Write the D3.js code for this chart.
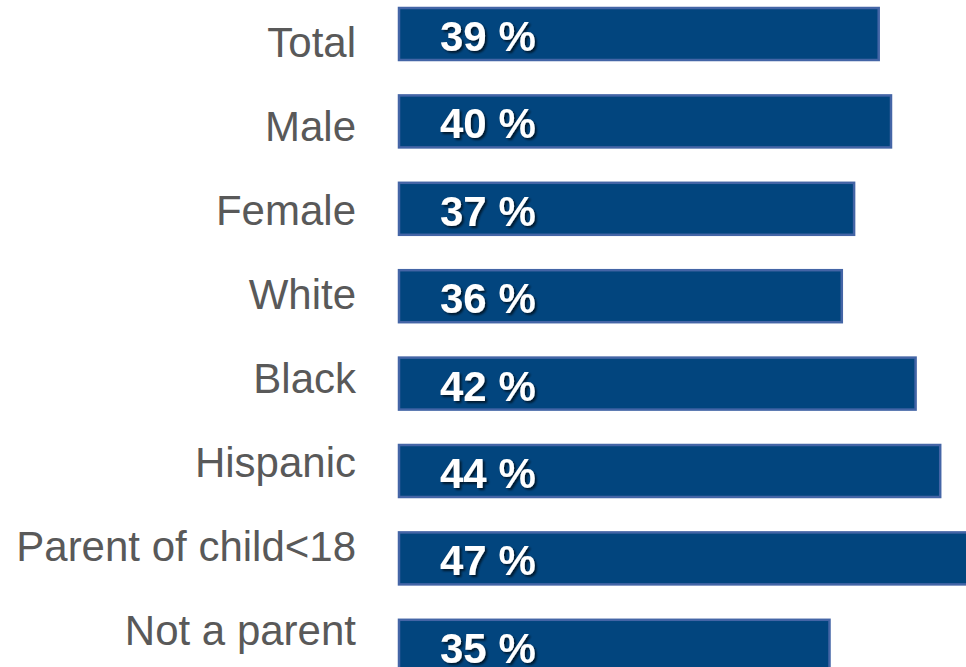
<!DOCTYPE html>
<html>
<head>
<meta charset="utf-8">
<script src="https://cdn.jsdelivr.net/npm/d3@7"></script>
<style>
  html, body { margin: 0; padding: 0; background: #fff; overflow: hidden; }
  svg { display: block; }
</style>
</head>
<body>
<svg id="chart"></svg>
<script>
// categories and values
const categories = ['Total', 'Male', 'Female', 'White', 'Black', 'Hispanic', 'Parent of child<18', 'Not a parent']
const values = [39, 40, 37, 36, 42, 44, 47, 35]

const width = 966
const height = 667

const svg = d3.select('#chart')
  .attr('width', width)
  .attr('height', height)

// drop shadow for the white value labels
const defs = svg.append('defs')
defs.append('filter')
  .attr('id', 'shadow')
  .attr('x', '-10%').attr('y', '-20%')
  .attr('width', '130%').attr('height', '150%')
  .append('feDropShadow')
  .attr('dx', 2)
  .attr('dy', 2)
  .attr('stdDeviation', 1.2)
  .attr('flood-color', '#000')
  .attr('flood-opacity', 0.65)

// x: zero at the bar start, ~12.3px per percent
const x = d3.scaleLinear()
  .domain([0, 47])
  .range([399, 399 + 47 * 12.3])

// bars
const y = d3.scaleBand()
  .domain(categories)
  .range([8, 8 + 7 * 87.4 + 52])
  .paddingInner(0.405)
  .paddingOuter(0)

// category labels sit on their own evenly spaced baselines
const yLabel = d3.scalePoint()
  .domain(categories)
  .range([57, 645])

const data = categories.map((c, i) => ({ cat: c, value: values[i] }))

svg.append('g')
  .selectAll('rect')
  .data(data)
  .join('rect')
  .attr('x', x(0))
  .attr('y', d => y(d.cat))
  .attr('width', d => x(d.value) - x(0))
  .attr('height', y.bandwidth())
  .attr('fill', '#02457e')
  .attr('stroke', '#4465a6')
  .attr('stroke-width', 2.5)

svg.append('g')
  .selectAll('text')
  .data(data)
  .join('text')
  .attr('x', x(0) + 41)
  .attr('y', d => y(d.cat) + 43)
  .attr('filter', 'url(#shadow)')
  .style('font-family', '"Liberation Sans", Arial, sans-serif')
  .style('font-weight', 'bold')
  .style('font-size', '42px')
  .style('fill', '#fff')
  .text(d => d.value + ' %')

svg.append('g')
  .selectAll('text')
  .data(data)
  .join('text')
  .attr('x', 356)
  .attr('y', d => yLabel(d.cat))
  .attr('text-anchor', 'end')
  .style('font-family', '"Liberation Sans", Arial, sans-serif')
  .style('font-size', '42px')
  .style('fill', '#595959')
  .text(d => d.cat)
</script>
</body>
</html>
